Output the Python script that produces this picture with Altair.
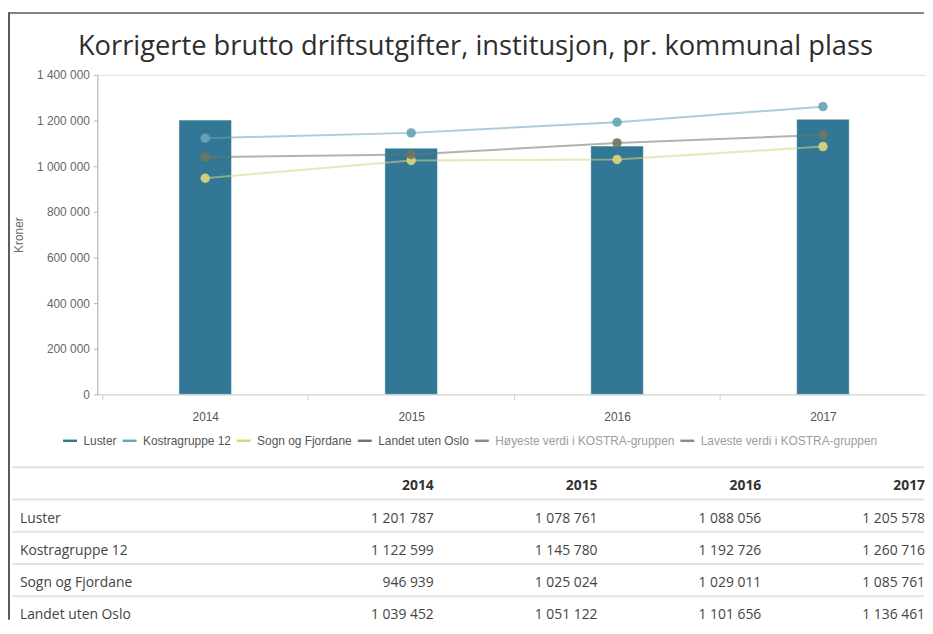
import altair as alt
import pandas as pd

# ---------------- data ----------------
years = [2014, 2015, 2016, 2017]
luster = [1201787, 1078761, 1088056, 1205578]
kostragruppe_12 = [1122599, 1145780, 1192726, 1260716]
sogn_og_fjordane = [946939, 1025024, 1029011, 1085761]
landet_uten_oslo = [1039452, 1051122, 1101656, 1136461]

series_names = [
    "Luster",
    "Kostragruppe 12",
    "Sogn og Fjordane",
    "Landet uten Oslo",
    "Høyeste verdi i KOSTRA-gruppen",
    "Laveste verdi i KOSTRA-gruppen",
]
series_colors = ["#327795", "#6aa3ba", "#d9d37c", "#6f7762", "#8a8a8a", "#8a8a8a"]
y_ticks = [0, 200000, 400000, 600000, 800000, 1000000, 1200000, 1400000]
x_tick_values = [2013.5, 2014, 2014.5, 2015, 2015.5, 2016, 2016.5, 2017]

title_text = "Korrigerte brutto driftsutgifter, institusjon, pr. kommunal plass"
y_title = "Kroner"

# ---------------- tables built from the arrays ----------------
bar_df = pd.DataFrame({"year": years, "value": luster, "series": "Luster"})

line_series = [
    ("Kostragruppe 12", kostragruppe_12),
    ("Sogn og Fjordane", sogn_og_fjordane),
    ("Landet uten Oslo", landet_uten_oslo),
]
line_df = pd.concat(
    [pd.DataFrame({"year": years, "value": vals, "series": name}) for name, vals in line_series],
    ignore_index=True,
)

table_series = [("Luster", luster)] + line_series
table_rows = ["header"] + [n for n, _ in table_series]
year_cols = [str(y) for y in years]


def fmt(v):
    return f"{v:,}".replace(",", " ")


cell_df = pd.DataFrame(
    [{"row": n, "col": str(y), "text": fmt(v)} for n, vals in table_series for y, v in zip(years, vals)]
)
header_df = pd.DataFrame({"row": "header", "col": year_cols, "text": year_cols})
label_df = pd.DataFrame({"row": [n for n, _ in table_series]})
line_rows_df = pd.DataFrame({"row": table_rows})
one = pd.DataFrame({"k": [0]})

# ---------------- scales ----------------
PLOT_W = 834
PLOT_H = 322
x_scale = alt.Scale(domain=[2013.5, 2013.5 + PLOT_W / 210], nice=False, zero=False)
y_scale = alt.Scale(domain=[0, 1400000], nice=False)
color_scale = alt.Scale(domain=series_names, range=series_colors)

legend = alt.Legend(
    title=None,
    orient="none",
    legendX=-36,
    legendY=360,
    direction="horizontal",
    symbolType="stroke",
    symbolSize=196,
    symbolStrokeWidth=2.5,
    symbolOpacity=1,
    labelFont="Liberation Sans",
    labelFontSize=12,
    labelLimit=0,
    labelColor={"expr": "indexof(datum.label, 'KOSTRA') >= 0 ? '#9d9d9d' : '#555555'"},
    labelOffset=5,
    columnPadding=0,
)
color_enc = alt.Color("series:N", scale=color_scale, legend=legend)

x_axis = alt.Axis(
    values=x_tick_values,
    labelExpr="datum.value % 1 == 0 ? format(datum.value, 'd') : ''",
    tickOpacity={"condition": {"test": "datum.value % 1 == 0", "value": 0}, "value": 1},
    title=None,
    grid=False,
    domainColor="#d6d6d6",
    tickColor="#cccccc",
    tickSize=5,
    labelPadding=12,
    labelFont="Liberation Sans",
    labelFontSize=12,
    labelColor="#555555",
    labelOverlap=False,
    labelFlush=False,
)
y_axis = alt.Axis(
    values=y_ticks,
    labelExpr="replace(format(datum.value, ','), regexp(',', 'g'), ' ')",
    title=y_title,
    titleFont="Liberation Sans",
    titleFontSize=12,
    titleFontWeight="normal",
    titleColor="#666666",
    titlePadding=11,
    grid=False,
    domainColor="#b3b3b3",
    tickColor="#b3b3b3",
    tickSize=4,
    labelPadding=4,
    labelFont="Liberation Sans",
    labelFontSize=12,
    labelColor="#666666",
)

# ---------------- main plot ----------------
bars = (
    alt.Chart(bar_df)
    .mark_bar(size=53, stroke="#ffffff", strokeWidth=1, strokeOpacity=0.5)
    .encode(
        x=alt.X("year:Q", scale=x_scale, axis=x_axis),
        y=alt.Y("value:Q", scale=y_scale, axis=y_axis),
        color=color_enc,
    )
)
lines = (
    alt.Chart(line_df)
    .mark_line(strokeWidth=2, opacity=0.55)
    .encode(
        x=alt.X("year:Q", scale=x_scale, axis=x_axis),
        y=alt.Y("value:Q", scale=y_scale, axis=y_axis),
        color=color_enc,
        detail="series:N",
    )
)
points = (
    alt.Chart(line_df)
    .mark_circle(size=90, opacity=0.92)
    .encode(
        x=alt.X("year:Q", scale=x_scale, axis=x_axis),
        y=alt.Y("value:Q", scale=y_scale, axis=y_axis),
        color=color_enc,
    )
)
main = alt.layer(bars, lines, points)

# ---------------- table ----------------
t_x_scale = alt.Scale(type="point", domain=year_cols, range=[339, 834], padding=0)
t_y_scale = alt.Scale(type="band", domain=table_rows, range=[395.5, 558], paddingInner=0, paddingOuter=0)
t_x = alt.X("col:O", scale=t_x_scale, axis=None)
t_y = alt.Y("row:N", scale=t_y_scale, axis=None)

row_lines = (
    alt.Chart(line_rows_df)
    .mark_rule(color="#e3e3e3", strokeWidth=2)
    .encode(
        y=alt.Y("row:N", scale=t_y_scale, axis=None, bandPosition=0),
        x=alt.value(-86),
        x2=alt.value(833),
    )
)
header_text = (
    alt.Chart(header_df)
    .mark_text(font="Open Sans", fontSize=14, fontWeight="bold", color="#333333", align="right", baseline="middle", dy=3)
    .encode(x=t_x, y=t_y, text="text:N")
)
cell_text = (
    alt.Chart(cell_df)
    .mark_text(font="Open Sans", fontSize=14, color="#444444", align="right", baseline="middle", dy=3)
    .encode(x=t_x, y=t_y, text="text:N")
)
row_labels = (
    alt.Chart(label_df)
    .mark_text(font="Open Sans", fontSize=14, color="#444444", align="left", baseline="middle", dy=3)
    .encode(x=alt.value(-78), y=t_y, text="row:N")
)
table = alt.layer(row_lines, header_text, cell_text, row_labels)

# ---------------- frame ----------------
frame_top = (
    alt.Chart(one)
    .mark_rule(color="#5a5a5a", strokeWidth=1.5)
    .encode(x=alt.value(-89), x2=alt.value(833), y=alt.value(-62.25))
)
frame_left = (
    alt.Chart(one)
    .mark_rule(color="#5a5a5a", strokeWidth=2)
    .encode(x=alt.value(-89), y=alt.value(-63), y2=alt.value(549))
)
frame = alt.layer(frame_top, frame_left)

chart = (
    alt.layer(main, table, frame)
    .resolve_scale(x="independent", y="independent")
    .properties(
        width=PLOT_W,
        height=PLOT_H,
        padding={"left": 0, "top": 1, "right": 0, "bottom": 0},
        title=alt.TitleParams(
            title_text,
            font="Open Sans",
            fontSize=27.5,
            fontWeight="normal",
            color="#2e2e2e",
            anchor="middle",
            frame="bounds",
            baseline="alphabetic",
            dx=9,
            offset=-71,
        ),
    )
    .configure_view(stroke=None)
    .configure(background="#ffffff")
)

chart.save("out.html", embed_options={"renderer": "svg", "actions": False})
